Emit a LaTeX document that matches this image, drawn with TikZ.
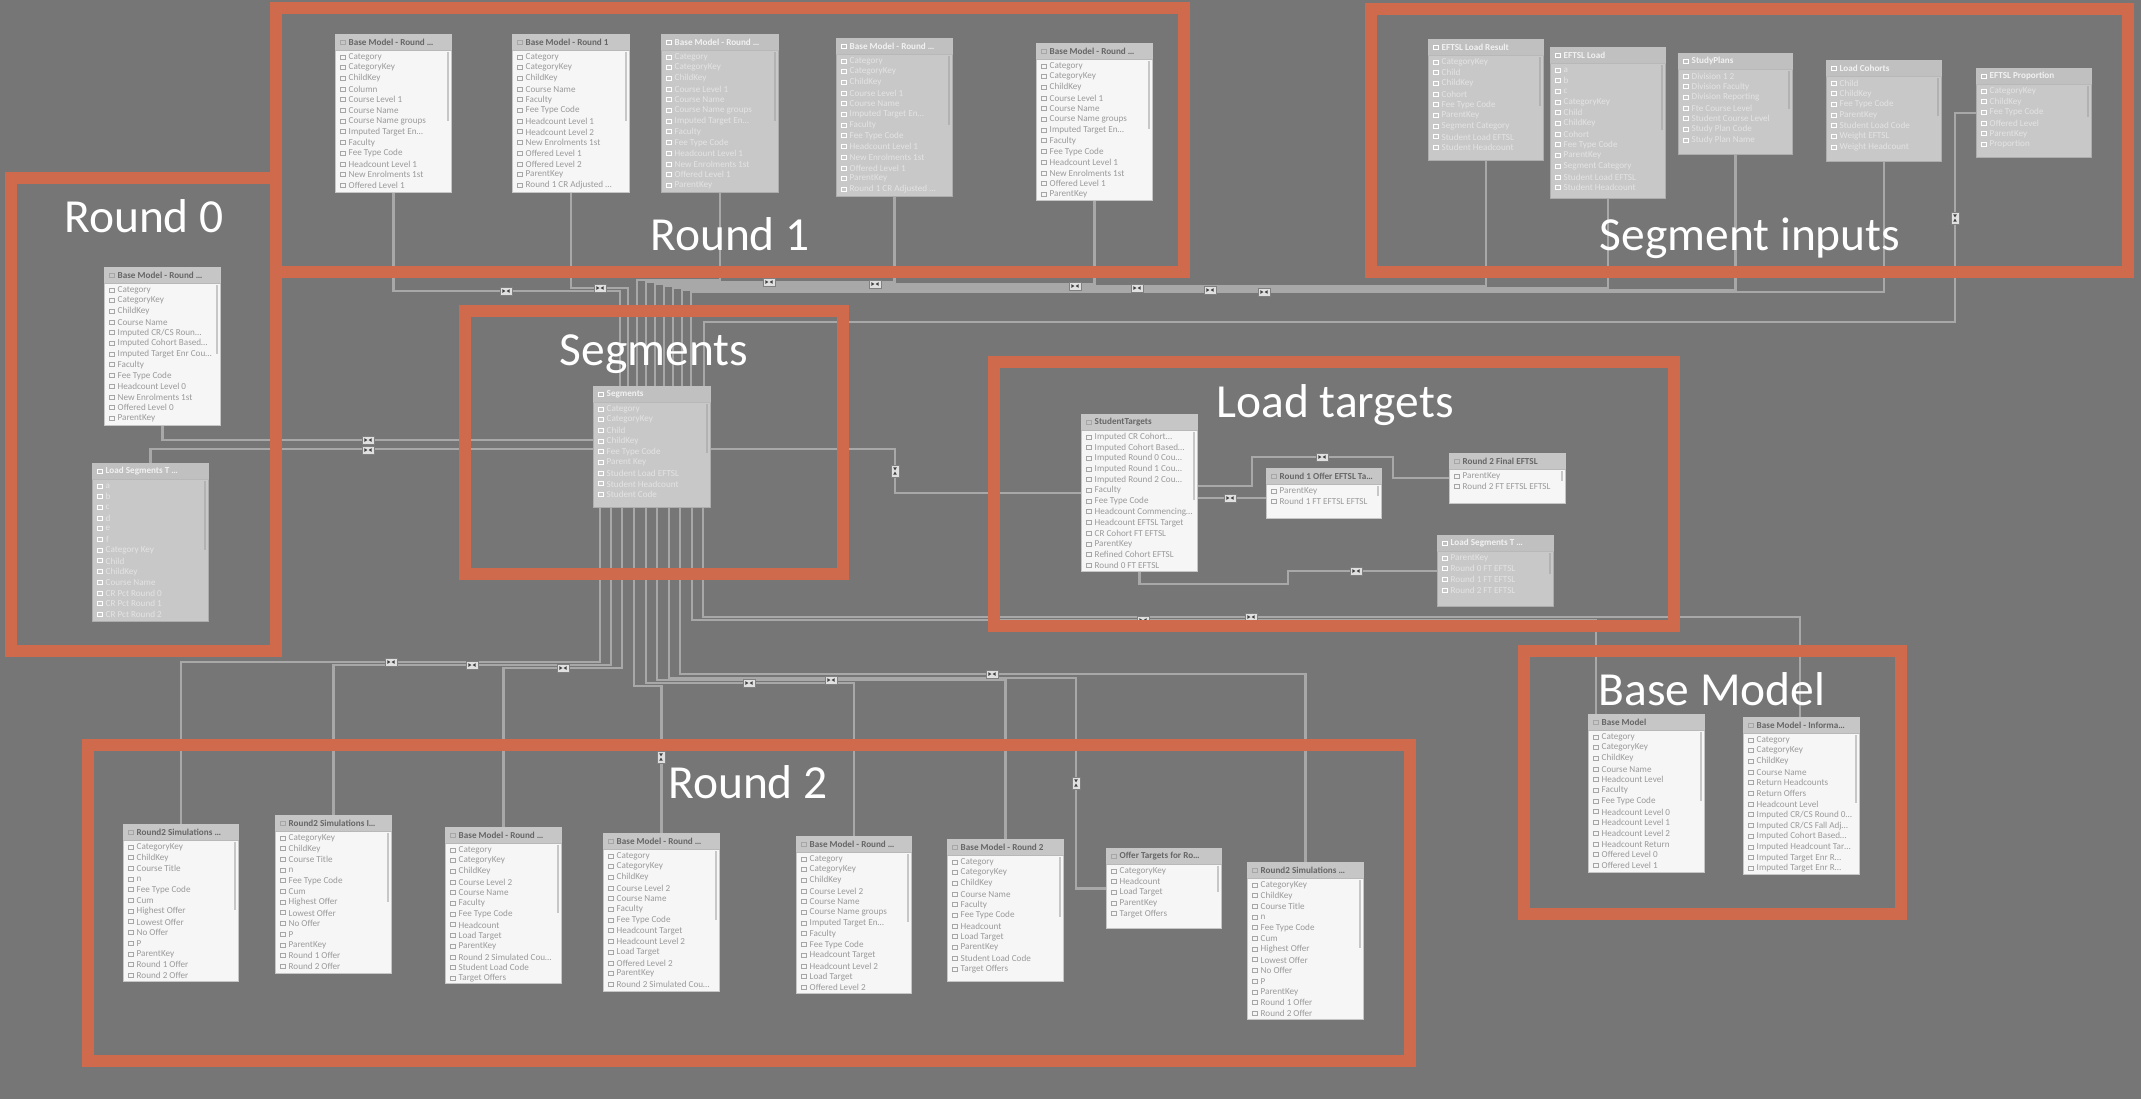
\documentclass[tikz,border=0pt]{standalone}
\usepackage{fontspec}
\setmainfont{Carlito}
\usetikzlibrary{calc}

\definecolor{canvas}{HTML}{767676}
\definecolor{frame}{HTML}{D06A4D}
\definecolor{wire}{HTML}{A8A8A8}
\definecolor{cardw}{HTML}{F6F6F6}
\definecolor{headw}{HTML}{C6C6C6}
\definecolor{cardg}{HTML}{C8C8C8}
\definecolor{headg}{HTML}{C0C0C0}
\definecolor{inkw}{HTML}{9A9A9A}
\definecolor{inkg}{HTML}{E4E4E4}

\tikzset{
  conn/.style={draw=wire, line width=0.65pt},
  grp/.style={draw=frame, line width=0.12cm},
  grplabel/.style={text=white, font=\fontsize{13.5}{16}\selectfont, anchor=base, inner sep=0pt},
  tblbodyw/.style={draw=headw, line width=0.3pt, fill=cardw, inner sep=0pt},
  tblbodyg/.style={draw=black!32, line width=0.3pt, fill=cardg, inner sep=0pt},
  tblheadw/.style={fill=headw},
  tblheadg/.style={fill=headg},
  ttlw/.style={text=black!60, font=\fontsize{2.6}{3}\selectfont\bfseries, inner sep=0pt, anchor=west},
  ttlg/.style={text=white!95!black, font=\fontsize{2.6}{3}\selectfont\bfseries, inner sep=0pt, anchor=west},
  roww/.style={text=inkw, font=\fontsize{2.6}{3}\selectfont, inner sep=0pt, anchor=west},
  rowg/.style={text=inkg, font=\fontsize{2.6}{3}\selectfont, inner sep=0pt, anchor=west},
  iconw/.style={draw=black!35, line width=0.25pt},
  icong/.style={draw=white, line width=0.25pt},
  barw/.style={fill=black!22},
  barg/.style={fill=black!30},
  mk/.style={draw=black!50, line width=0.2pt, fill=white!88!black,
    minimum width=0.12cm, minimum height=0.08cm, inner sep=0pt,
    path picture={
      \fill[black!75] ([xshift=-0.006cm]path picture bounding box.center)
        -- ++(-0.03cm,0.018cm) -- ++(0cm,-0.036cm) -- cycle;
      \fill[black!75] ([xshift=0.006cm]path picture bounding box.center)
        -- ++(0.03cm,0.018cm) -- ++(0cm,-0.036cm) -- cycle;}},
  mkv/.style={mk, rotate=90},
}

% A model table: name, x, y, width, height, look (w/g), title, row list macro
\newcommand\dbtable[8]{%
  \node[tblbody#6, minimum width=#4*0.01cm, minimum height=#5*0.01cm, anchor=north west] (#1) at (#2,#3) {};
  \fill[tblhead#6] ($(#1.north west)+(0.3,0.3)$) rectangle ($(#1.north east)+(-0.3,16)$);
  \draw[draw=black!28, line width=0.2pt] ($(#1.north west)+(0,16)$) -- ($(#1.north east)+(0,16)$);
  \draw[icon#6] ($(#1.north west)+(5,6)$) rectangle ++(5,4);
  \node[ttl#6] (#1-title) at ($(#1.north west)+(13,8)$) {#7};
  \fill[bar#6] ($(#1.north east)+(-5,18)$) rectangle ($(#1.north east)+(-3,#5*0.55)$);
  \foreach \r [count=\i] in #8 {
    \draw[icon#6] ($(#1.north west)+(5,10.3+\i*10.7)$) rectangle ++(5,4);
    \node[row#6] (#1-r\i) at ($(#1.north west)+(13,12.3+\i*10.7)$) {\r};
  }%
}

% column lists
\def\rowsA{Category,CategoryKey,ChildKey,Column,Course Level 1,Course Name,Course Name groups,Imputed Target En…,Faculty,Fee Type Code,Headcount Level 1,New Enrolments 1st,Offered Level 1}
\def\rowsB{Category,CategoryKey,ChildKey,Course Name,Faculty,Fee Type Code,Headcount Level 1,Headcount Level 2,New Enrolments 1st,Offered Level 1,Offered Level 2,ParentKey,Round 1 CR Adjusted …}
\def\rowsC{Category,CategoryKey,ChildKey,Course Level 1,Course Name,Course Name groups,Imputed Target En…,Faculty,Fee Type Code,Headcount Level 1,New Enrolments 1st,Offered Level 1,ParentKey}
\def\rowsD{Category,CategoryKey,ChildKey,Course Level 1,Course Name,Imputed Target En…,Faculty,Fee Type Code,Headcount Level 1,New Enrolments 1st,Offered Level 1,ParentKey,Round 1 CR Adjusted …}
\def\rowsRa{Category,CategoryKey,ChildKey,Course Name,Imputed CR/CS Roun…,Imputed Cohort Based…,Imputed Target Enr Cou…,Faculty,Fee Type Code,Headcount Level 0,New Enrolments 1st,Offered Level 0,ParentKey}
\def\rowsRb{a,b,c,d,e,f,Category Key,Child,ChildKey,Course Name,CR Pct Round 0,CR Pct Round 1,CR Pct Round 2}
\def\rowsSa{CategoryKey,Child,ChildKey,Cohort,Fee Type Code,ParentKey,Segment Category,Student Load EFTSL,Student Headcount}
\def\rowsSb{a,b,c,CategoryKey,Child,ChildKey,Cohort,Fee Type Code,ParentKey,Segment Category,Student Load EFTSL,Student Headcount}
\def\rowsSc{Division 1 2,Division Faculty,Division Reporting,Fte Course Level,Student Course Level,Study Plan Code,Study Plan Name}
\def\rowsSd{Child,ChildKey,Fee Type Code,ParentKey,Student Load Code,Weight EFTSL,Weight Headcount}
\def\rowsSe{CategoryKey,ChildKey,Fee Type Code,Offered Level,ParentKey,Proportion}
\def\rowsSeg{Category,CategoryKey,Child,ChildKey,Fee Type Code,Parent Key,Student Load EFTSL,Student Headcount,Student Code}
\def\rowsLa{Imputed CR Cohort…,Imputed Cohort Based…,Imputed Round 0 Cou…,Imputed Round 1 Cou…,Imputed Round 2 Cou…,Faculty,Fee Type Code,Headcount Commencing…,Headcount EFTSL Target,CR Cohort FT EFTSL,ParentKey,Refined Cohort EFTSL,Round 0 FT EFTSL}
\def\rowsLb{ParentKey,Round 1 FT EFTSL EFTSL}
\def\rowsLc{ParentKey,Round 2 FT EFTSL EFTSL}
\def\rowsLd{ParentKey,Round 0 FT EFTSL,Round 1 FT EFTSL,Round 2 FT EFTSL}
\def\rowsBa{Category,CategoryKey,ChildKey,Course Name,Headcount Level,Faculty,Fee Type Code,Headcount Level 0,Headcount Level 1,Headcount Level 2,Headcount Return,Offered Level 0,Offered Level 1}
\def\rowsBb{Category,CategoryKey,ChildKey,Course Name,Return Headcounts,Return Offers,Headcount Level,Imputed CR/CS Round 0…,Imputed CR/CS Fall Adj…,Imputed Cohort Based…,Imputed Headcount Tar…,Imputed Target Enr R…,Imputed Target Enr R…}
\def\rowsQa{CategoryKey,ChildKey,Course Title,n,Fee Type Code,Cum,Highest Offer,Lowest Offer,No Offer,P,ParentKey,Round 1 Offer,Round 2 Offer}
\def\rowsQc{Category,CategoryKey,ChildKey,Course Level 2,Course Name,Faculty,Fee Type Code,Headcount,Load Target,ParentKey,Round 2 Simulated Cou…,Student Load Code,Target Offers}
\def\rowsQd{Category,CategoryKey,ChildKey,Course Level 2,Course Name,Faculty,Fee Type Code,Headcount Target,Headcount Level 2,Load Target,Offered Level 2,ParentKey,Round 2 Simulated Cou…}
\def\rowsQe{Category,CategoryKey,ChildKey,Course Level 2,Course Name,Course Name groups,Imputed Target En…,Faculty,Fee Type Code,Headcount Target,Headcount Level 2,Load Target,Offered Level 2}
\def\rowsQf{Category,CategoryKey,ChildKey,Course Name,Faculty,Fee Type Code,Headcount,Load Target,ParentKey,Student Load Code,Target Offers}
\def\rowsQg{CategoryKey,Headcount,Load Target,ParentKey,Target Offers}

\begin{document}
\begin{tikzpicture}[x=0.01cm, y=-0.01cm]
\fill[canvas] (0,0) rectangle (2141,1099);
\useasboundingbox (0,0) rectangle (2141,1099);

% ---------- tables ----------
% Round 1
\dbtable{t1}{335}{34}{116}{158}{w}{Base Model - Round …}{\rowsA}
\dbtable{t2}{512}{34}{117}{158}{w}{Base Model - Round 1}{\rowsB}
\dbtable{t3}{661}{34}{117}{158}{g}{Base Model - Round …}{\rowsC}
\dbtable{t4}{836}{38}{116}{158}{g}{Base Model - Round …}{\rowsD}
\dbtable{t5}{1036}{43}{116}{157}{w}{Base Model - Round …}{\rowsC}
% Round 0
\dbtable{r0a}{104}{267}{116}{158}{w}{Base Model - Round …}{\rowsRa}
\dbtable{r0b}{92}{463}{116}{158}{g}{Load Segments T …}{\rowsRb}
% Segment inputs
\dbtable{s1}{1428}{39}{115}{121}{g}{EFTSL Load Result}{\rowsSa}
\dbtable{s2}{1550}{47}{115}{151}{g}{EFTSL Load}{\rowsSb}
\dbtable{s3}{1678}{53}{114}{101}{g}{StudyPlans}{\rowsSc}
\dbtable{s4}{1826}{60}{115}{101}{g}{Load Cohorts}{\rowsSd}
\dbtable{s5}{1976}{68}{115}{89}{g}{EFTSL Proportion}{\rowsSe}
% Segments
\dbtable{seg}{593}{386}{117}{121}{g}{Segments}{\rowsSeg}
% Load targets
\dbtable{l1}{1081}{414}{116}{157}{w}{StudentTargets}{\rowsLa}
\dbtable{l2}{1266}{468}{115}{50}{w}{Round 1 Offer EFTSL Ta…}{\rowsLb}
\dbtable{l3}{1449}{453}{116}{50}{w}{Round 2 Final EFTSL}{\rowsLc}
\dbtable{l4}{1437}{535}{116}{71}{g}{Load Segments T …}{\rowsLd}
% Base Model
\dbtable{b1}{1588}{714}{116}{158}{w}{Base Model}{\rowsBa}
\dbtable{b2}{1743}{717}{116}{157}{w}{Base Model - Informa…}{\rowsBb}
% Round 2
\dbtable{q1}{123}{824}{115}{157}{w}{Round2 Simulations …}{\rowsQa}
\dbtable{q2}{275}{815}{116}{158}{w}{Round2 Simulations I…}{\rowsQa}
\dbtable{q3}{445}{827}{116}{156}{w}{Base Model - Round …}{\rowsQc}
\dbtable{q4}{603}{833}{116}{158}{w}{Base Model - Round …}{\rowsQd}
\dbtable{q5}{796}{836}{115}{157}{w}{Base Model - Round …}{\rowsQe}
\dbtable{q6}{947}{839}{116}{142}{w}{Base Model - Round 2}{\rowsQf}
\dbtable{q7}{1106}{848}{115}{80}{w}{Offer Targets for Ro…}{\rowsQg}
\dbtable{q8}{1247}{862}{116}{157}{w}{Round2 Simulations …}{\rowsQa}

% ---------- relationships ----------
% Round 0 -> Segments
\draw[conn] (r0a.south) |- (seg.west |- 0,440);
\draw[conn] (r0b.north) |- (seg.west |- 0,449);
% Round 1 -> Segments (top bus)
\draw[conn] (t1.south) |- (620,291) -- (seg.north -| 620,0);
\draw[conn] (t2.south) |- (628,288) -- (seg.north -| 628,0);
\draw[conn] (t3.south) |- (637,280) -- (seg.north -| 637,0);
\draw[conn] (t4.south) |- (646,282) -- (seg.north -| 646,0);
\draw[conn] (t5.south) |- (655,284) -- (seg.north -| 655,0);
% Segment inputs -> Segments
\draw[conn] (s1.south) |- (664,286) -- (seg.north -| 664,0);
\draw[conn] (s2.south) |- (673,288) -- (seg.north -| 673,0);
\draw[conn] (s3.south) |- (682,290) -- (seg.north -| 682,0);
\draw[conn] (s4.south) |- (691,292) -- (seg.north -| 691,0);
\draw[conn] (s5.west) -| (1955,322) -| (seg.north -| 704,0);
% Segments -> Load targets
\draw[conn] (seg.east |- 0,449) -| (895,493) -- (l1.west |- 0,493);
\draw[conn] (l1.east |- 0,486) -| (1252,457) -| (1393,478) -- (l3.west |- 0,478);
\draw[conn] (l1.east |- 0,498) -- (l2.west |- 0,498);
\draw[conn] (l1.south) -- ++(0,12) -| (1288,571) -- (l4.west |- 0,571);
% Segments -> Base Model
\draw[conn] (seg.south -| 692,0) |- (1596,620) -- (b1.north -| 1596,0);
\draw[conn] (seg.south -| 703,0) |- (1800,617) -- (b2.north -| 1800,0);
% Segments -> Round 2
\draw[conn] (seg.south -| 600,0) |- (q1.north |- 0,662) -- (q1.north);
\draw[conn] (seg.south -| 611,0) |- (q2.north |- 0,665) -- (q2.north);
\draw[conn] (seg.south -| 622,0) |- (q3.north |- 0,668) -- (q3.north);
\draw[conn] (seg.south -| 634,0) |- (q4.north |- 0,686) -- (q4.north);
\draw[conn] (seg.south -| 646,0) |- (q5.north |- 0,683) -- (q5.north);
\draw[conn] (seg.south -| 657,0) |- (q6.north |- 0,680) -- (q6.north);
\draw[conn] (seg.south -| 669,0) |- (1076,678) |- (q7.west);
\draw[conn] (seg.south -| 680,0) |- (q8.north |- 0,674) -- (q8.north);

% cross-filter markers
\node[mk] (m1) at (368,440) {};
\node[mk] (m2) at (368,450) {};
\node[mk] (m3) at (506,291) {};
\node[mk] (m4) at (600,288) {};
\node[mk] (m5) at (769,282) {};
\node[mk] (m6) at (875,284) {};
\node[mk] (m7) at (1075,286) {};
\node[mk] (m8) at (1137,288) {};
\node[mk] (m9) at (1210,290) {};
\node[mk] (m10) at (1264,292) {};
\node[mkv] (m11) at (1955,218) {};
\node[mkv] (m12) at (895,471) {};
\node[mk] (m13) at (1322,457) {};
\node[mk] (m14) at (1230,498) {};
\node[mk] (m15) at (1356,571) {};
\node[mk] (m16) at (1143,620) {};
\node[mk] (m17) at (1251,617) {};
\node[mk] (m18) at (391,662) {};
\node[mk] (m19) at (472,665) {};
\node[mk] (m20) at (563,668) {};
\node[mkv] (m21) at (661,757) {};
\node[mk] (m22) at (749,683) {};
\node[mk] (m23) at (831,680) {};
\node[mk] (m24) at (992,674) {};
\node[mkv] (m25) at (1076,783) {};

% ---------- group frames ----------
\draw[grp] (11,178) rectangle (276,651);
\draw[grp] (276,8) rectangle (1184,272);
\draw[grp] (1371,9) rectangle (2128,272);
\draw[grp] (465,311) rectangle (843,574);
\draw[grp] (994,362) rectangle (1674,626);
\draw[grp] (1524,651) rectangle (1901,914);
\draw[grp] (88,745) rectangle (1410,1061);

\node[grplabel] (lbl-r0) at (144,232) {Round 0};
\node[grplabel] (lbl-r1) at (730,250) {Round 1};
\node[grplabel] (lbl-si) at (1750,250) {Segment inputs};
\node[grplabel] (lbl-seg) at (654,365) {Segments};
\node[grplabel] (lbl-lt) at (1335,417) {Load targets};
\node[grplabel] (lbl-bm) at (1712,705) {Base Model};
\node[grplabel] (lbl-r2) at (748,798) {Round 2};
\end{tikzpicture}
\end{document}
